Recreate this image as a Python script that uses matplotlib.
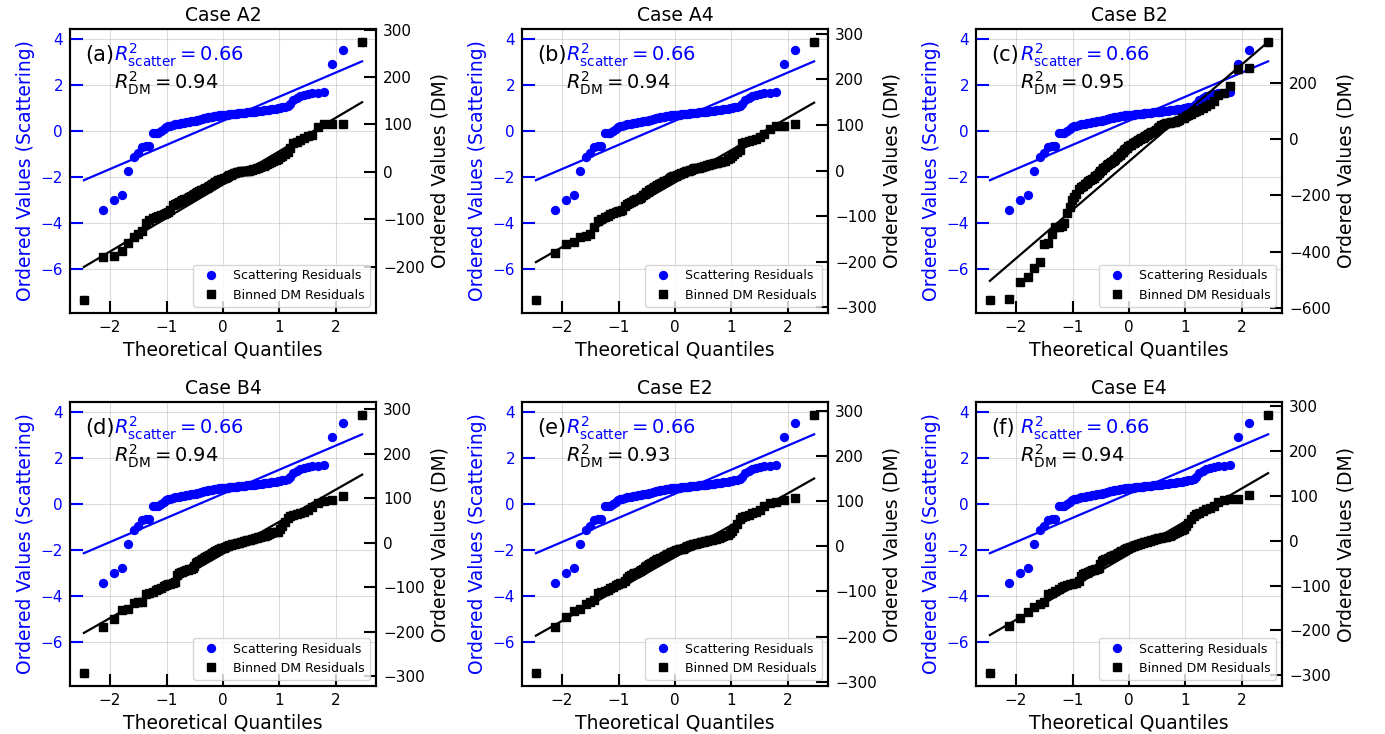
from statistics import NormalDist
import numpy as np
from matplotlib import pyplot as plt

cases = ['Case A2', 'Case A4', 'Case B2', 'Case B4', 'Case E2', 'Case E4']
letters = ['a', 'b', 'c', 'd', 'e', 'f']
r2_scatter = [0.66, 0.66, 0.66, 0.66, 0.66, 0.66]
r2_dm = [0.94, 0.94, 0.95, 0.94, 0.93, 0.94]

# ordered scattering residuals (same for every case)
scatter_resid = [
    -7.36, -3.45, -3.00, -2.78, -1.73, -1.12, -0.98, -0.69, -0.66, -0.65,
    -0.11, -0.10, -0.08, -0.02, 0.10, 0.16, 0.20, 0.23, 0.26, 0.28,
    0.30, 0.32, 0.33, 0.35, 0.36, 0.37, 0.38, 0.40, 0.41, 0.42,
    0.44, 0.45, 0.47, 0.49, 0.51, 0.53, 0.55, 0.56, 0.58, 0.59,
    0.60, 0.61, 0.62, 0.63, 0.64, 0.65, 0.66, 0.67, 0.68, 0.69,
    0.70, 0.70, 0.71, 0.71, 0.72, 0.72, 0.73, 0.74, 0.74, 0.75,
    0.76, 0.77, 0.77, 0.78, 0.79, 0.79, 0.80, 0.80, 0.81, 0.82,
    0.83, 0.84, 0.85, 0.86, 0.87, 0.88, 0.89, 0.90, 0.92, 0.93,
    0.94, 0.95, 0.96, 0.98, 1.00, 1.03, 1.06, 1.10, 1.18, 1.35,
    1.44, 1.50, 1.56, 1.61, 1.64, 1.66, 1.68, 2.89, 3.52, 3.87]
scatter_fit = (1.05, 0.44)  # slope, intercept

# ordered binned DM residuals per case
dm_A2 = [
    -270, -180, -178, -166, -149, -137, -131, -124, -108, -102,
    -98, -95, -93, -91, -88, -86, -84, -80, -70, -68,
    -66, -64, -62, -60, -58, -56, -54, -52, -50, -48,
    -46, -45, -43, -41, -39, -37, -36, -34, -33, -31,
    -29, -27, -25, -23, -21, -20, -18, -17, -15, -14,
    -13, -12, -10, -9, -7, -6, -5, -3, -2, -1,
    0, 0, 1, 1, 2, 2, 3, 3, 4, 5,
    6, 7, 8, 9, 10, 12, 13, 15, 16, 18,
    21, 23, 25, 28, 31, 34, 38, 42, 50, 60,
    64, 68, 72, 75, 77, 94, 100, 100, 100, 274]
dm_A4 = [
    -284, -181, -162, -157, -145, -143, -139, -124, -110, -106,
    -102, -99, -96, -92, -90, -89, -88, -86, -78, -73,
    -71, -69, -67, -65, -63, -62, -60, -57, -54, -51,
    -48, -46, -43, -40, -38, -36, -34, -32, -30, -29,
    -27, -26, -24, -23, -21, -19, -17, -15, -13, -12,
    -11, -10, -8, -7, -6, -4.5, -3, -2, -1, 0,
    1, 2, 4, 4.5, 5, 6, 6.5, 7.5, 8.5, 9.5,
    10.5, 11.5, 12.5, 13.5, 14.5, 15.5, 16, 17, 18, 19,
    20, 22, 25, 28, 32, 36, 40, 44, 60, 63,
    65, 67, 69, 74, 80, 91, 97, 97, 102, 282]
dm_B2 = [
    -573, -570, -510, -490, -458, -438, -373, -369, -337, -313,
    -313, -310, -300, -262, -241, -215, -207, -195, -178, -172,
    -167, -160, -155, -150, -146, -142, -137, -132, -126, -120,
    -114, -108, -103, -98, -93, -89, -85, -81, -77, -73,
    -69, -65, -60, -55, -50, -45, -40, -35, -30, -26,
    -22, -19, -15, -12, -9, -6, -3, 0, 3, 5,
    8, 12, 15, 18, 21, 24, 27, 30, 34, 39,
    44, 49, 52, 54, 56, 57, 58, 60, 62, 63,
    66, 70, 74, 77, 81, 86, 91, 96, 100, 103,
    111, 117, 127, 135, 156, 165, 191, 251, 254, 346]
dm_B4 = [
    -293, -190, -171, -151, -149, -136, -134, -133, -115, -113,
    -110, -107, -104, -101, -98, -95, -93, -92, -90, -88,
    -72, -69, -67, -65, -63, -62, -61, -60, -59, -57,
    -53, -46, -43, -41, -39, -37, -35, -33, -31, -29,
    -27, -25, -23, -21, -19, -17.5, -16, -14.5, -13, -12,
    -11, -9.5, -8, -7, -6, -4.5, -3.5, -3, -2, -1.5,
    -1, 0, 1, 2, 3, 4, 5, 6, 7, 8,
    9, 10, 11, 12, 13, 14, 15, 16, 18, 20,
    21, 23, 24, 25, 30, 38, 47, 56, 60, 63,
    65, 67, 70, 73, 80, 89, 94, 96, 104, 287]
dm_E2 = [
    -281, -178, -157, -144, -139, -129, -124, -119, -104, -102,
    -99, -96, -93, -90, -85, -83, -82, -81, -78, -70,
    -65, -63, -61, -60, -59, -57, -54, -52, -50, -47,
    -44, -42, -39, -37, -35, -33, -31, -29, -28, -27,
    -25, -23, -22, -20, -18, -17, -15, -13, -12, -10,
    -9, -8, -7, -6.5, -6, -5, -3.5, -2, -0.5, 1,
    2, 3, 4, 5, 6, 7, 8, 9, 9.5, 10,
    11, 12, 13, 13.5, 14.5, 16, 17, 18, 19, 20.5,
    22, 24, 26, 29, 34, 40, 50, 61, 64, 67,
    70, 73, 76, 81, 90, 95, 99, 102, 106, 291]
dm_E4 = [
    -295, -191, -172, -159, -148, -142, -137, -119, -117, -112,
    -108, -104, -100, -98, -96, -96, -95, -95, -90, -78,
    -75, -73, -71, -69, -67, -66, -65, -64, -63, -60,
    -52, -46, -44, -42, -40, -38, -37, -35, -34, -32,
    -31, -29, -27, -26, -24, -22, -21, -19, -17, -16,
    -15, -14, -12, -11, -10, -9, -8, -7, -6, -5,
    -4, -3, -2, -1, 0, 1, 2, 3, 4, 5,
    5.5, 6, 7, 8, 9, 10, 11, 13, 15, 18,
    20, 22, 24, 27, 33, 40, 48, 54, 59, 62,
    66, 70, 73, 78, 86, 91, 93, 93, 102, 280]
dm_resid = [dm_A2, dm_A4, dm_B2, dm_B4, dm_E2, dm_E4]
dm_slope = [70.5, 71.0, 172.8, 72.2, 70.7, 73.2]
dm_intercept = [-26.6, -26.0, -79.0, -25.0, -24.0, -30.0]


def theoretical_quantiles(n):
    # Filliben order statistic medians, as in scipy.stats.probplot
    m = [(i - 0.3175) / (n + 0.365) for i in range(1, n + 1)]
    m[0] = 1 - 0.5 ** (1.0 / n)
    m[-1] = 0.5 ** (1.0 / n)
    nd = NormalDist()
    return np.array([nd.inv_cdf(p) for p in m])


W, H = 1385, 734
fig = plt.figure(figsize=(W / 100, H / 100), dpi=100)
lefts = [70, 522, 976]
tops = [29, 402]
aw, ah = 306, 284

for k in range(6):
    left = lefts[k % 3]
    top = tops[k // 3]
    ax1 = fig.add_axes([left / W, 1 - (top + ah) / H, aw / W, ah / H])
    ax2 = ax1.twinx()

    y1 = np.sort(np.array(scatter_resid))
    x1 = theoretical_quantiles(len(y1))
    h1, = ax1.plot(x1, y1, 'o', color='blue', ms=5.7, label='Scattering Residuals')
    ax1.plot(x1, scatter_fit[0] * x1 + scatter_fit[1], '-', color='blue', lw=1.6)

    y2 = np.sort(np.array(dm_resid[k], dtype=float))
    x2 = theoretical_quantiles(len(y2))
    h2, = ax2.plot(x2, y2, 's', color='black', ms=5.2, label='Binned DM Residuals')
    ax2.plot(x2, dm_slope[k] * x2 + dm_intercept[k], '-', color='black', lw=1.6)

    ax1.set_title(cases[k], fontsize=13.5)
    ax1.set_xlabel('Theoretical Quantiles', fontsize=13.5)
    ax1.set_ylabel('Ordered Values (Scattering)', color='blue', fontsize=13.5)
    ax2.set_ylabel('Ordered Values (DM)', color='black', fontsize=13.5)
    ax1.grid(True, color='#b0b0b0', alpha=0.45, lw=0.8)

    ax1.tick_params(axis='x', direction='in', length=9, width=1.5, labelsize=11, pad=5)
    ax1.tick_params(axis='y', direction='in', length=9, width=1.5, colors='blue',
                    labelsize=11, pad=5)
    ax2.tick_params(axis='y', direction='in', length=9, width=1.5, labelsize=11, pad=5)
    for sp in ax2.spines.values():
        sp.set_linewidth(1.5)
    for sp in ax1.spines.values():
        sp.set_linewidth(1.5)

    ax2.text(0.05, 0.887, '(%s)' % letters[k], transform=ax1.transAxes, fontsize=15)
    ax2.text(0.145, 0.887, r'$R^2_{\rm scatter} = %.2f$' % r2_scatter[k],
             transform=ax1.transAxes, fontsize=14, color='blue')
    ax2.text(0.145, 0.788, r'$R^2_{\rm DM} = %.2f$' % r2_dm[k],
             transform=ax1.transAxes, fontsize=14, color='black')

    ax2.legend([h1, h2], ['Scattering Residuals', 'Binned DM Residuals'],
               loc='lower right', fontsize=9)

plt.savefig('out.png', dpi=100)
